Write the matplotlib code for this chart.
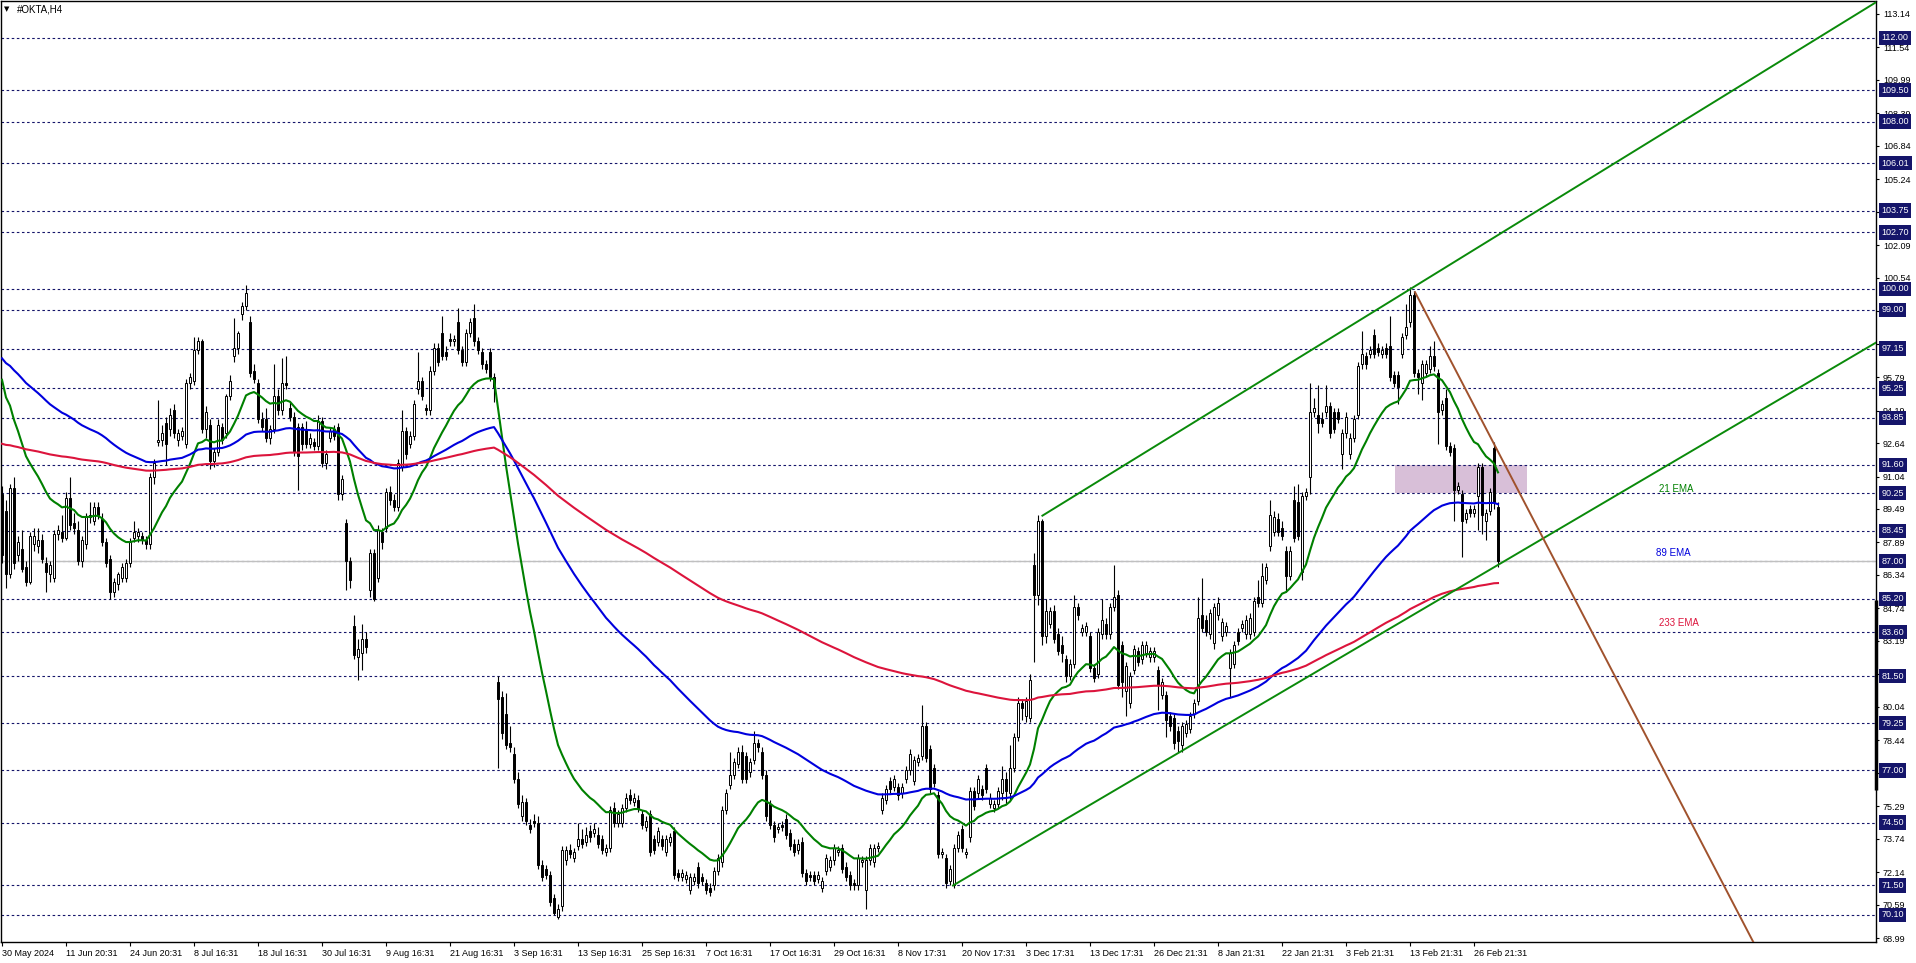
import numpy as np
import matplotlib
matplotlib.use("Agg")
import matplotlib.pyplot as plt
import matplotlib.transforms as mtransforms
from matplotlib.patches import Rectangle

plt.rcParams['font.family'] = ['Liberation Sans', 'DejaVu Sans']

# ---- H4 candles, one row per x-axis label interval (16 bars) ----
opens = [
    90.2, 89.4, 86.4, 90.5, 87.3, 87.6, 86.7, 86.0, 87.8, 87.7, 88.0, 86.9, 86.4, 86.2, 88.3, 88.4,
    88.1, 90.0, 88.8, 88.5, 87.0, 87.8, 89.1, 88.9, 89.6, 89.0, 87.9, 87.1, 85.5, 85.9, 86.2, 86.2,
    86.9, 88.1, 88.2, 88.2, 88.0, 87.8, 91.0, 92.7, 92.8, 93.6, 93.3, 94.2, 92.8, 93.0, 92.6, 95.5,
    95.6, 97.1, 97.5, 93.3, 93.5, 91.8, 92.2, 93.4, 93.1, 94.9, 96.8, 97.2, 98.8, 99.2, 98.4, 96.1,
    95.5, 93.8, 93.8, 92.9, 93.3, 94.9, 94.2, 95.5, 94.3, 93.9, 93.4, 93.4, 93.3, 92.6, 92.7, 92.5,
    93.7, 91.7, 92.9, 93.3, 93.4, 90.2, 88.8, 87.0, 83.9, 82.4, 82.6, 83.3, 85.6, 87.4, 86.2, 88.4,
    88.6, 90.3, 89.9, 89.6, 91.5, 93.2, 92.6, 93.0, 95.2, 95.6, 94.3, 94.2, 96.1, 97.2, 97.9, 97.0,
    97.6, 97.5, 98.4, 97.1, 96.5, 97.9, 98.6, 97.5, 97.0, 96.4, 97.0, 95.8, 81.2, 80.5, 79.7, 78.3,
    77.8, 76.6, 74.8, 75.5, 74.4, 74.6, 74.5, 72.5, 72.3, 72.0, 70.9, 70.0, 70.5, 72.7, 73.2, 72.8,
    73.4, 73.7, 73.6, 74.1, 74.0, 73.9, 73.7, 73.1, 73.3, 75.2, 74.5, 74.5, 75.2, 75.8, 75.5, 75.6,
    74.9, 74.3, 74.9, 73.7, 73.6, 73.7, 73.1, 73.6, 74.1, 72.1, 71.9, 71.8, 71.3, 71.7, 72.4, 71.9,
    71.6, 71.4, 71.5, 72.2, 72.6, 75.1, 76.3, 76.8, 77.3, 77.9, 77.7, 76.9, 77.5, 78.3, 77.9, 76.8,
    75.4, 74.4, 74.2, 74.4, 74.7, 74.0, 73.5, 73.2, 73.6, 72.1, 72.0, 72.0, 71.8, 71.4, 72.2, 72.4,
    72.7, 73.1, 73.3, 72.4, 72.0, 71.6, 71.5, 72.6, 71.3, 72.7, 72.6, 73.3, 75.1, 75.6, 76.5, 76.2,
    76.2, 75.9, 76.6, 77.0, 76.5, 77.4, 77.7, 79.1, 78.0, 77.1, 75.8, 73.0, 72.8, 71.7, 71.5, 73.3,
    74.2, 73.0, 73.8, 76.0, 75.9, 76.1, 77.1, 75.4, 75.2, 75.4, 75.9, 76.6, 75.9, 77.1, 78.6, 80.2,
    79.6, 79.5, 86.8, 85.4, 88.9, 83.4, 84.0, 84.6, 83.5, 83.0, 82.3, 81.5, 82.1, 84.8, 83.6, 83.6,
    83.4, 81.9, 81.6, 83.5, 84.0, 83.5, 84.8, 85.4, 83.0, 80.8, 80.2, 81.8, 82.7, 82.3, 82.6, 82.4,
    82.4, 81.8, 80.6, 80.6, 79.6, 79.5, 78.9, 78.2, 78.8, 79.0, 79.7, 80.3, 84.4, 84.2, 83.5, 83.1,
    84.4, 83.4, 83.6, 81.9, 82.1, 83.6, 83.8, 83.5, 83.5, 83.6, 85.3, 85.0, 86.1, 87.7, 88.4, 89.0,
    88.6, 87.5, 86.3, 89.9, 89.8, 86.5, 90.1, 91.0, 94.1, 94.0, 93.8, 94.1, 94.4, 94.1, 94.1, 92.1,
    93.1, 92.1, 92.9, 94.0, 96.4, 96.8, 96.9, 97.8, 97.2, 96.9, 97.2, 97.3, 95.9, 95.9, 96.9, 97.8,
    98.4, 99.7, 96.0, 95.5, 96.0, 96.2, 96.8, 96.0, 94.2, 94.8, 92.5, 92.4, 90.4, 90.2, 89.0, 89.5,
    89.3, 90.1, 91.5, 88.9, 89.4, 92.4, 89.6,
]
highs = [
    90.6, 89.9, 90.7, 91.0, 88.2, 88.5, 87.0, 88.4, 88.6, 88.6, 88.3, 87.2, 87.0, 88.5, 88.7, 89.2,
    90.3, 91.0, 89.3, 88.9, 88.2, 89.3, 89.8, 89.8, 89.8, 89.3, 88.1, 87.3, 86.2, 86.5, 86.9, 87.1,
    88.1, 88.9, 88.6, 88.4, 88.2, 91.2, 91.9, 94.7, 93.5, 93.9, 94.3, 94.5, 93.3, 93.4, 95.7, 96.0,
    97.7, 97.7, 97.6, 94.4, 93.8, 92.4, 93.8, 93.6, 95.0, 95.9, 98.6, 98.0, 99.4, 100.2, 98.7, 96.4,
    95.7, 94.1, 94.3, 93.5, 96.4, 95.2, 96.7, 96.8, 94.6, 94.1, 93.6, 93.6, 93.7, 93.1, 92.9, 94.0,
    93.9, 92.3, 93.4, 93.5, 93.6, 91.1, 89.0, 87.2, 84.4, 83.3, 84.0, 83.6, 87.6, 87.6, 88.7, 88.6,
    90.5, 90.6, 90.2, 91.9, 94.2, 93.4, 93.2, 94.7, 97.0, 95.8, 94.5, 96.3, 97.4, 97.4, 98.7, 97.3,
    97.9, 97.8, 99.1, 97.3, 98.1, 98.6, 99.3, 97.7, 97.2, 96.6, 97.2, 96.0, 81.5, 80.8, 80.7, 79.1,
    78.1, 76.9, 75.8, 75.7, 74.7, 74.9, 74.8, 72.7, 72.5, 72.2, 71.1, 70.6, 73.4, 73.4, 73.5, 73.3,
    74.5, 74.2, 74.3, 74.4, 74.5, 74.3, 73.9, 73.5, 75.3, 75.5, 75.1, 75.4, 75.9, 76.1, 75.9, 75.8,
    75.1, 74.8, 75.1, 73.9, 74.3, 73.9, 73.9, 74.0, 74.3, 72.3, 72.3, 72.2, 72.1, 72.1, 72.6, 72.1,
    71.8, 71.6, 72.4, 73.0, 75.3, 76.1, 77.9, 77.6, 78.1, 78.2, 77.9, 77.6, 78.9, 78.5, 78.1, 77.0,
    75.6, 74.6, 74.5, 74.6, 74.9, 74.2, 73.7, 73.7, 73.8, 72.3, 72.2, 72.2, 72.2, 71.9, 73.0, 72.9,
    73.5, 73.4, 73.5, 72.6, 72.2, 71.8, 73.0, 72.9, 72.9, 73.5, 73.5, 73.6, 75.9, 76.3, 76.7, 76.8,
    76.4, 76.4, 77.2, 78.0, 77.7, 77.8, 80.1, 79.3, 78.2, 77.3, 76.0, 73.3, 73.0, 72.5, 73.5, 74.1,
    74.4, 73.3, 76.2, 76.2, 76.8, 76.3, 77.3, 75.9, 75.6, 76.2, 77.2, 76.9, 78.2, 78.8, 80.5, 80.4,
    80.5, 81.6, 87.4, 89.2, 89.0, 85.2, 84.8, 84.9, 83.8, 83.4, 82.5, 82.3, 85.4, 85.0, 84.0, 84.1,
    83.6, 82.1, 83.8, 85.2, 84.3, 85.0, 86.8, 85.6, 83.2, 82.2, 81.7, 83.0, 82.9, 83.2, 83.2, 82.9,
    82.9, 82.0, 81.4, 80.8, 79.8, 79.7, 79.1, 79.3, 79.4, 79.8, 80.4, 85.3, 86.2, 84.4, 84.7, 85.0,
    85.3, 84.3, 84.1, 82.8, 83.2, 83.8, 84.2, 84.4, 84.5, 85.3, 86.1, 86.9, 86.9, 89.9, 89.4, 89.3,
    88.9, 87.7, 87.7, 90.6, 90.7, 90.3, 90.5, 95.5, 94.8, 95.4, 94.1, 95.4, 94.6, 94.3, 94.3, 93.3,
    94.1, 93.1, 94.0, 96.5, 98.0, 97.0, 97.3, 98.1, 97.4, 97.3, 97.4, 98.7, 96.1, 96.1, 97.9, 99.3,
    100.1, 99.9, 96.2, 96.6, 96.6, 97.3, 97.5, 96.2, 94.7, 95.2, 92.7, 92.6, 90.8, 90.4, 89.5, 89.7,
    89.7, 91.7, 91.7, 89.5, 90.5, 92.7, 89.8,
]
lows = [
    86.9, 85.7, 86.2, 86.6, 87.0, 86.5, 85.8, 85.9, 87.5, 87.4, 86.9, 85.5, 86.0, 86.0, 88.0, 87.9,
    88.0, 88.5, 88.3, 86.8, 86.7, 87.6, 88.8, 88.7, 89.0, 87.7, 86.7, 85.2, 85.3, 85.6, 86.0, 86.0,
    86.7, 87.9, 87.9, 87.8, 87.6, 87.6, 90.7, 92.5, 92.5, 91.6, 93.0, 92.9, 92.5, 92.8, 92.4, 95.2,
    95.4, 96.9, 93.1, 92.9, 91.4, 91.5, 92.0, 92.6, 92.9, 94.7, 96.5, 96.9, 98.5, 99.0, 95.8, 95.5,
    93.6, 93.2, 92.7, 92.6, 93.1, 94.0, 94.0, 95.2, 93.7, 92.0, 90.4, 92.3, 92.4, 92.4, 92.3, 92.3,
    91.5, 91.4, 92.7, 92.8, 89.9, 89.9, 85.6, 85.7, 82.3, 81.3, 81.8, 82.6, 85.3, 85.1, 86.0, 87.6,
    88.4, 89.7, 89.4, 89.4, 91.3, 91.9, 92.4, 92.8, 95.0, 94.7, 94.0, 94.0, 95.9, 96.3, 96.6, 96.6,
    97.3, 97.3, 96.9, 96.3, 96.3, 97.7, 97.3, 96.9, 96.2, 96.0, 95.6, 94.6, 77.1, 78.5, 78.0, 77.9,
    76.4, 75.2, 74.6, 74.4, 74.0, 74.3, 72.3, 71.7, 71.8, 70.5, 70.1, 69.9, 70.3, 72.5, 72.8, 72.6,
    73.2, 73.3, 73.4, 73.6, 73.8, 73.3, 73.0, 72.9, 73.1, 74.3, 74.3, 74.3, 75.0, 75.4, 75.3, 75.0,
    74.2, 74.1, 72.9, 73.0, 73.4, 73.2, 72.9, 73.4, 71.8, 71.7, 71.7, 71.6, 71.1, 71.5, 71.4, 71.5,
    71.1, 71.0, 71.3, 72.0, 72.4, 74.9, 76.1, 76.6, 77.1, 76.4, 76.4, 76.7, 77.3, 77.9, 76.6, 74.6,
    74.2, 73.6, 74.0, 74.1, 73.7, 73.2, 72.9, 73.0, 71.9, 71.5, 71.7, 71.5, 71.6, 71.2, 72.0, 72.2,
    72.5, 72.9, 72.1, 71.7, 71.3, 71.3, 71.3, 72.4, 70.4, 72.5, 72.4, 73.1, 74.9, 75.4, 75.9, 76.0,
    75.6, 75.7, 76.4, 76.8, 76.3, 77.2, 77.5, 77.4, 75.9, 76.2, 72.8, 72.8, 71.4, 71.5, 71.4, 73.1,
    73.1, 72.8, 73.6, 75.1, 75.7, 75.6, 75.9, 75.2, 75.0, 75.2, 75.6, 75.4, 75.6, 76.9, 78.4, 79.4,
    79.3, 79.3, 82.2, 84.9, 83.0, 83.1, 83.8, 83.1, 82.5, 82.2, 81.2, 81.3, 81.9, 84.2, 83.4, 83.4,
    81.7, 81.2, 81.4, 83.3, 83.3, 83.3, 84.6, 80.9, 80.5, 79.6, 80.0, 81.6, 82.0, 82.1, 82.4, 82.2,
    82.2, 79.9, 80.4, 78.6, 78.9, 78.0, 77.9, 77.9, 78.6, 78.8, 79.5, 80.1, 83.6, 83.4, 83.3, 82.8,
    84.2, 83.2, 83.4, 80.5, 81.9, 83.0, 83.6, 83.3, 83.3, 83.4, 84.8, 84.8, 85.9, 87.5, 88.2, 88.2,
    88.0, 85.5, 86.1, 87.9, 88.0, 86.1, 89.9, 90.2, 93.9, 93.1, 93.4, 93.9, 92.9, 93.1, 93.6, 91.4,
    92.9, 91.9, 92.7, 93.8, 96.2, 96.2, 96.7, 96.7, 96.8, 96.7, 96.7, 95.6, 95.3, 94.5, 96.7, 97.6,
    98.2, 95.8, 95.0, 94.7, 95.8, 96.0, 96.1, 92.6, 94.0, 92.3, 92.0, 88.9, 90.2, 87.2, 88.8, 89.1,
    89.1, 88.5, 88.3, 88.0, 89.2, 89.5, 86.7,
]
closes = [
    87.3, 86.4, 90.5, 86.9, 87.9, 86.6, 86.0, 88.2, 88.2, 88.0, 87.1, 86.5, 86.8, 88.3, 88.5, 88.1,
    90.0, 88.7, 88.6, 87.0, 88.0, 89.1, 89.2, 89.6, 89.2, 87.9, 86.9, 85.5, 86.0, 86.4, 86.7, 86.9,
    87.9, 88.4, 88.4, 88.0, 87.8, 91.0, 91.7, 92.8, 93.1, 92.6, 94.0, 93.1, 93.1, 93.2, 95.5, 95.8,
    97.1, 97.5, 93.3, 94.1, 91.8, 92.2, 93.5, 92.8, 94.9, 95.6, 97.2, 97.9, 99.2, 99.8, 96.0, 95.7,
    93.8, 93.4, 92.9, 93.3, 94.9, 94.2, 95.5, 95.4, 93.9, 92.2, 92.0, 92.6, 92.6, 92.9, 92.5, 93.7,
    91.7, 92.1, 93.2, 93.0, 90.2, 90.9, 87.0, 86.1, 82.5, 82.8, 83.3, 82.9, 87.4, 85.2, 88.5, 87.9,
    90.3, 89.9, 89.6, 91.7, 93.2, 92.1, 93.0, 94.5, 95.6, 94.9, 94.2, 96.1, 97.2, 96.5, 96.8, 96.8,
    97.5, 97.6, 97.1, 96.5, 97.9, 98.4, 97.5, 97.1, 96.4, 96.2, 95.8, 95.3, 80.4, 78.8, 78.2, 78.1,
    76.6, 75.4, 75.5, 74.6, 74.2, 74.5, 72.5, 71.9, 72.0, 70.7, 70.2, 70.4, 73.2, 73.2, 73.0, 73.1,
    73.7, 73.5, 73.9, 73.8, 74.2, 73.5, 73.2, 73.3, 75.1, 74.5, 74.9, 75.2, 75.7, 75.6, 75.7, 75.2,
    74.4, 74.6, 73.1, 73.2, 74.1, 73.4, 73.7, 73.8, 72.0, 71.9, 72.1, 72.0, 71.9, 71.9, 71.6, 71.7,
    71.3, 71.2, 72.2, 72.8, 75.1, 75.9, 76.8, 77.4, 77.9, 76.6, 76.6, 77.4, 78.3, 78.1, 76.8, 74.8,
    74.4, 73.8, 74.3, 74.3, 73.9, 73.4, 73.1, 73.5, 72.1, 71.7, 71.9, 71.7, 72.0, 71.7, 72.8, 72.7,
    73.3, 73.2, 72.3, 71.9, 71.5, 71.5, 72.8, 72.7, 72.7, 73.3, 73.3, 73.4, 75.7, 76.1, 76.1, 76.6,
    75.8, 76.2, 77.0, 77.8, 77.5, 77.6, 79.1, 77.6, 76.1, 76.4, 73.0, 73.1, 71.6, 72.3, 73.3, 73.9,
    73.3, 73.1, 76.0, 75.3, 76.6, 75.8, 76.1, 75.7, 75.4, 76.0, 76.6, 76.0, 77.1, 78.6, 80.2, 80.0,
    80.3, 81.3, 85.4, 88.9, 83.4, 84.6, 84.6, 83.3, 82.7, 82.6, 81.5, 82.1, 84.8, 84.4, 83.8, 83.9,
    81.9, 81.4, 83.6, 84.2, 83.5, 84.8, 85.3, 81.1, 81.2, 82.0, 81.5, 82.8, 82.2, 83.0, 83.0, 82.7,
    82.7, 81.1, 81.2, 79.4, 79.1, 78.3, 78.4, 79.1, 79.2, 79.6, 80.2, 84.3, 83.8, 83.6, 84.5, 84.8,
    85.0, 84.1, 83.9, 82.6, 83.0, 83.2, 84.0, 84.2, 84.3, 85.1, 85.0, 86.3, 86.7, 89.2, 89.1, 88.4,
    88.2, 86.3, 87.5, 88.1, 88.2, 90.1, 90.3, 94.1, 94.3, 93.6, 93.6, 94.4, 93.1, 93.3, 93.8, 93.1,
    93.9, 92.9, 93.8, 96.3, 96.9, 96.4, 97.1, 96.9, 97.0, 97.1, 96.9, 95.8, 95.5, 95.3, 97.7, 98.2,
    99.7, 96.0, 95.8, 96.4, 96.4, 96.8, 96.3, 94.1, 94.5, 92.5, 92.2, 90.4, 90.6, 88.9, 89.3, 89.3,
    89.5, 91.5, 89.2, 89.3, 90.3, 89.8, 87.0,
]

date_labels = [
    "30 May 2024", "11 Jun 20:31", "24 Jun 20:31", "8 Jul 16:31", "18 Jul 16:31",
    "30 Jul 16:31", "9 Aug 16:31", "21 Aug 16:31", "3 Sep 16:31", "13 Sep 16:31",
    "25 Sep 16:31", "7 Oct 16:31", "17 Oct 16:31", "29 Oct 16:31", "8 Nov 17:31",
    "20 Nov 17:31", "3 Dec 17:31", "13 Dec 17:31", "26 Dec 21:31", "8 Jan 21:31",
    "22 Jan 21:31", "3 Feb 21:31", "13 Feb 21:31", "26 Feb 21:31",
]
price_ticks = [113.14, 111.54, 109.99, 108.39, 106.84, 105.24, 103.69, 102.09, 100.54,
               98.94, 97.39, 95.79, 94.19, 92.64, 91.04, 89.49, 87.89, 86.34, 84.74,
               83.19, 81.59, 80.04, 78.44, 76.89, 75.29, 73.74, 72.14, 70.59, 68.99]
levels = [112.00, 109.50, 108.00, 106.01, 103.75, 102.70, 100.00, 99.00, 97.15, 95.25,
          93.85, 91.60, 90.25, 88.45, 87.00, 85.20, 83.60, 81.50, 79.25, 77.00, 74.50,
          71.50, 70.10]
last_price = 87.00

ema_periods = [21, 89, 233]
ema_seeds = [96.5, 96.9, 92.65]   # values at the left edge of the window
ema_colors = ["#008000", "#0000dd", "#dc143c"]
ema_label_pos = [(414.3, 90.45), (413.5, 87.4), (414.3, 84.05)]

# trendlines, (bar, price) anchors
channel_low = [(237.75, 71.50), (468.5, 97.44)]
channel_high = [(260.1, 89.17), (468.5, 113.70)]
down_line = [(353.25, 99.85), (440.0, 68.0)]
zone_bars = (348.25, 381.2)
zone_prices = (90.25, 91.60)

assert len(opens) == len(highs) == len(lows) == len(closes)


def ema(values, period, seed):
    alpha = 2.0 / (period + 1)
    out, prev = [], seed
    for v in values:
        prev = prev + alpha * (v - prev)
        out.append(prev)
    return np.array(out)


o = np.array(opens)
h = np.array(highs)
l = np.array(lows)
c = np.array(closes)
x = np.arange(len(c))

fig = plt.figure(figsize=(19.16, 9.63), dpi=100)
ax = fig.add_axes([1 / 1916, 21 / 963, 1875 / 1916, 941 / 963])
ax.set_xlim(-0.25, 468.5)
ax.set_ylim(68.80, 113.76)

navy = "#15156a"
for lv in levels:
    ax.axhline(lv, color=navy, lw=0.8, ls=(0, (2.3, 2.3)), zorder=1)
ax.axhline(last_price, color="#c0c0c0", lw=1.0, zorder=1.2)

ax.add_patch(Rectangle((zone_bars[0], zone_prices[0]), zone_bars[1] - zone_bars[0],
                       zone_prices[1] - zone_prices[0], facecolor="#d8bfd8",
                       edgecolor="none", zorder=0.8))

# candles
ax.vlines(x, l, h, color="black", lw=0.8, zorder=3)
up = c >= o
body = np.maximum(np.abs(c - o), 0.04)
ax.bar(x, body, bottom=np.minimum(o, c), width=0.62,
       color=np.where(up, "white", "black"), edgecolor="black", linewidth=0.7, zorder=3.5)

for period, seed, col in zip(ema_periods, ema_seeds, ema_colors):
    ax.plot(x, ema(c, period, seed), color=col, lw=1.5, zorder=4)

for (bx, py), period, col in zip(ema_label_pos, ema_periods, ema_colors):
    ax.text(bx, py, f"{period} EMA", color=col, fontsize=7, va="center", ha="left", zorder=6)

for line, col in [(channel_low, "#0a8a0a"), (channel_high, "#0a8a0a"), (down_line, "#a0522d")]:
    ax.plot([p[0] for p in line], [p[1] for p in line], color=col, lw=1.4, zorder=5)

# axes styling
for sp in ax.spines.values():
    sp.set_color("black")
    sp.set_linewidth(1.0)

ax.yaxis.tick_right()
ax.set_yticks(price_ticks)
ax.set_yticklabels([f"{t:.2f}" for t in price_ticks])
ax.tick_params(axis="y", direction="out", length=2.5, width=0.8, pad=2.5, labelsize=6.5)

ax.set_xticks([16 * k for k in range(len(date_labels))])
ax.set_xticklabels(date_labels)
ax.tick_params(axis="x", direction="out", length=3, width=0.8, pad=2, labelsize=6.5)
for lbl in ax.get_xticklabels():
    lbl.set_ha("left")

trans = mtransforms.blended_transform_factory(ax.transAxes, ax.transData)
for lv in levels:
    ax.text(1.0028, lv, f"{lv:.2f}", transform=trans, va="center", ha="left",
            color="white", fontsize=6.5, zorder=10, clip_on=False,
            bbox=dict(boxstyle="square,pad=0.3", fc=navy, ec="none"))
ax.plot([1.0, 1.0], [85.14, 76.07], transform=trans, color="black", lw=2.5,
        solid_capstyle="butt", clip_on=False, zorder=11)

fig.text(4 / 1916, 1 - 9 / 963, "\u25bc", fontsize=5, va="center", ha="left", family="DejaVu Sans")
fig.text(17 / 1916, 1 - 9 / 963, "#OKTA,H4", fontsize=7, va="center", ha="left")

fig.savefig("out.png", dpi=100)
plt.close(fig)
